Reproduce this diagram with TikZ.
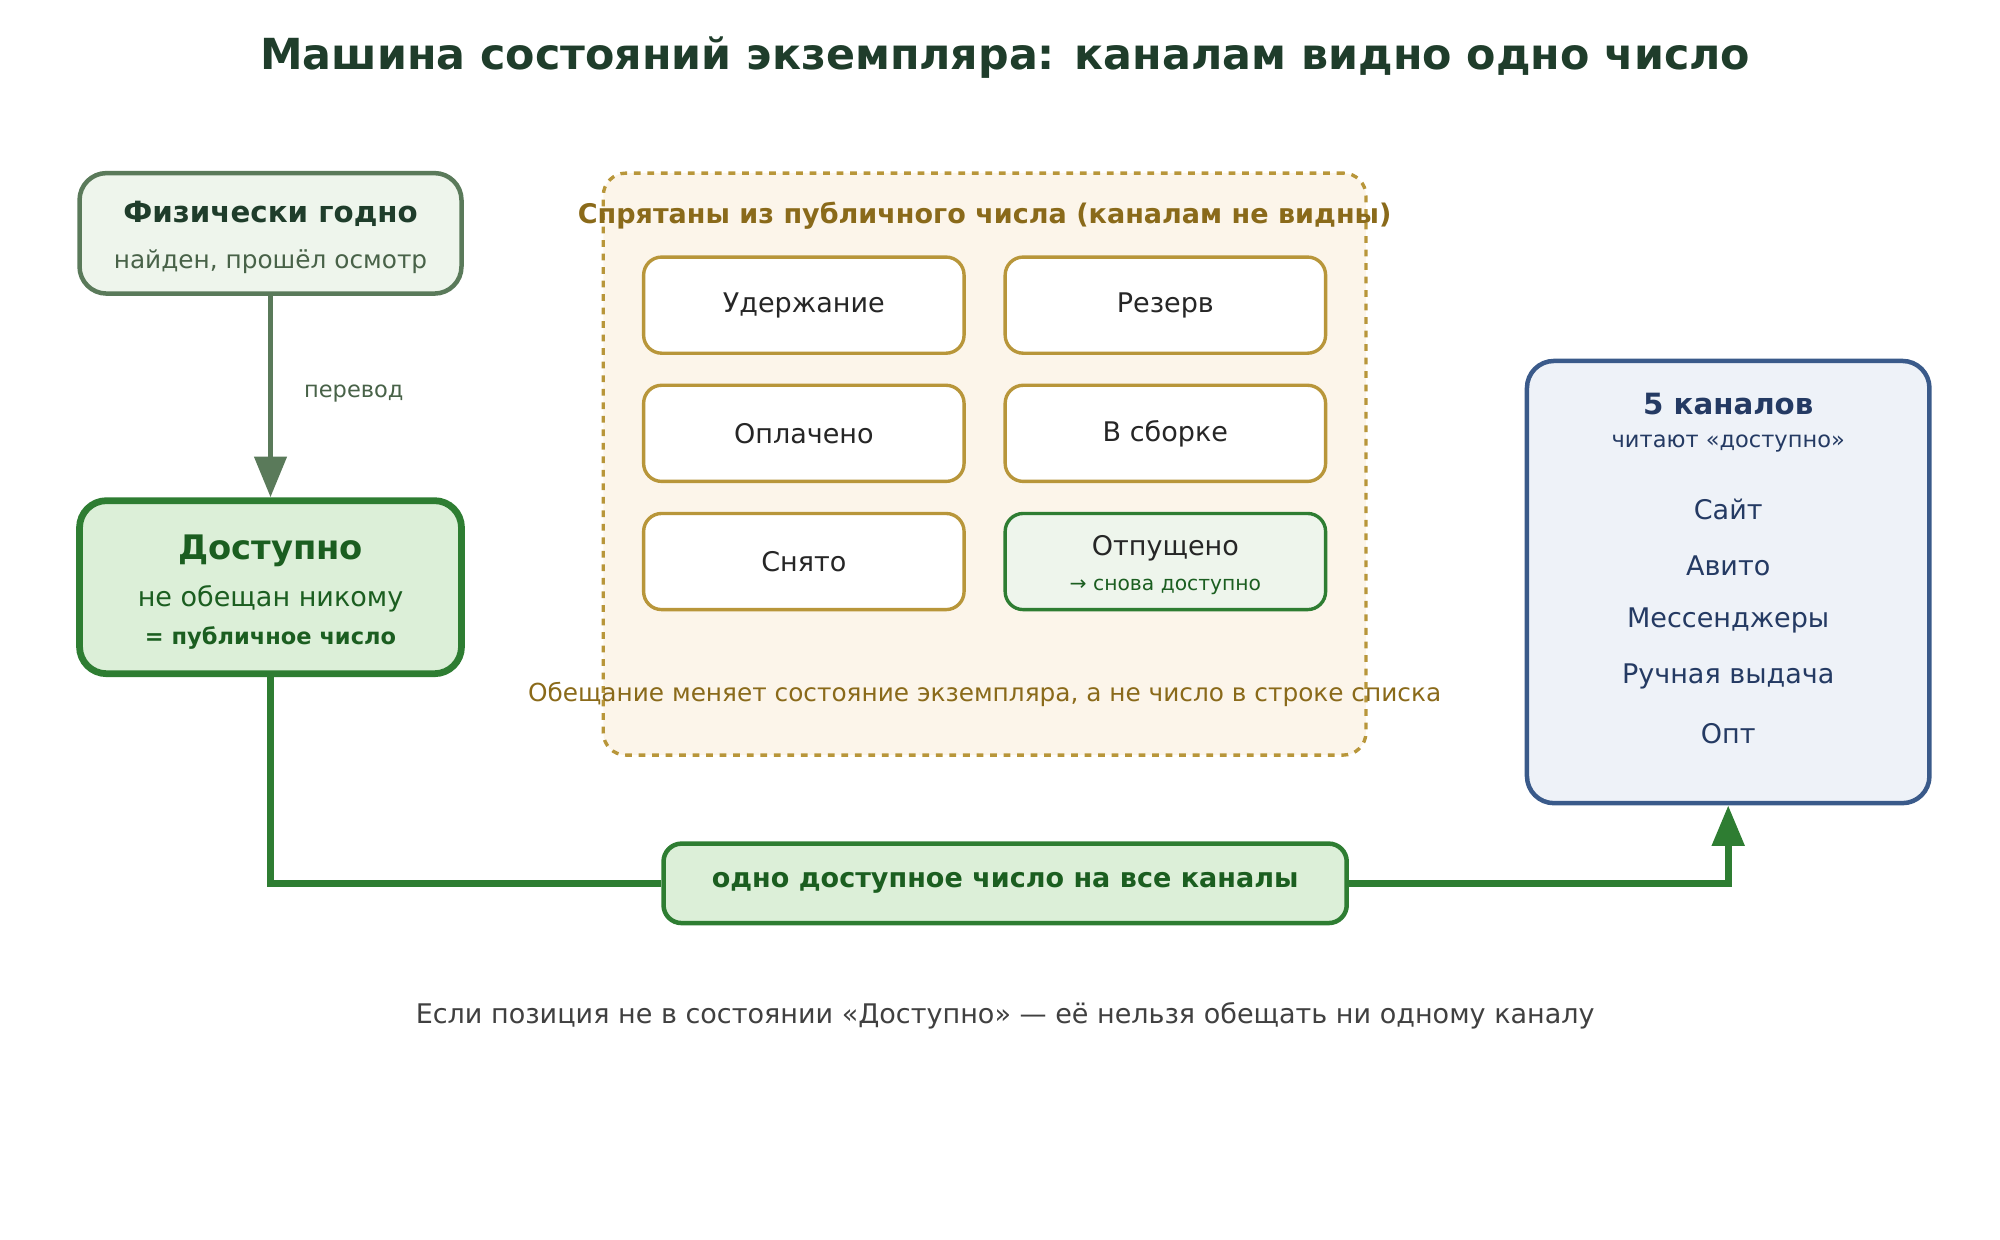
\documentclass[tikz,border=0pt]{standalone}
\usepackage{fontspec}
\setmainfont{DejaVu Sans}
\usetikzlibrary{arrows.meta}
\definecolor{titlegreen}{HTML}{1F3D2B}
\definecolor{physdraw}{HTML}{5A7A5A}
\definecolor{physfill}{HTML}{EEF5EC}
\definecolor{okdraw}{HTML}{2E7D32}
\definecolor{okfill}{HTML}{DCEFD8}
\definecolor{oktext}{HTML}{1B5E20}
\definecolor{hidedraw}{HTML}{B8963A}
\definecolor{hidefill}{HTML}{FCF5EA}
\definecolor{hidetext}{HTML}{8A6A1A}
\definecolor{chdraw}{HTML}{3A5A8A}
\definecolor{chfill}{HTML}{EEF2F8}
\definecolor{chtext}{HTML}{243A63}
\tikzset{
  statebox/.style={draw=hidedraw, fill=white, line width=1.5pt, rounded corners=8pt,
    minimum width=5cm, minimum height=1.5cm, font=\fontsize{12}{14}\selectfont, text=black!85},
  bigbox/.style={rounded corners=12pt, line width=2pt, align=center},
}
\begin{document}
\begin{tikzpicture}[x=0.02cm, y=-0.02cm]
  \useasboundingbox (0,0) rectangle (1560,967);
  \node[font=\bfseries\fontsize{19}{22}\selectfont, text=titlegreen] (title) at (784,45) {Машина состояний экземпляра: каналам видно одно число};

  % physical and available
  \node[bigbox, draw=physdraw, fill=physfill, minimum width=5.96cm, minimum height=1.88cm] (phys) at (211,182) {};
  \node[font=\bfseries\fontsize{13}{15}\selectfont, text=titlegreen] at (211,167) {Физически годно};
  \node[font=\fontsize{11}{13}\selectfont, text=physdraw!80!black] at (211,204) {найден, прошёл осмотр};

  \node[bigbox, draw=okdraw, fill=okfill, line width=3pt, minimum width=5.96cm, minimum height=2.7cm] (dost) at (211,458) {};
  \node[font=\bfseries\fontsize{15}{18}\selectfont, text=oktext] at (211,430) {Доступно};
  \node[font=\fontsize{12}{14}\selectfont, text=oktext] at (211,467) {не обещан никому};
  \node[font=\bfseries\fontsize{10}{12}\selectfont, text=oktext] at (211,498) {= публичное число};

  \draw[physdraw, line width=2.5pt, -{Triangle[length=18pt, width=14pt]}] (phys.south) -- (dost.north);
  \node[font=\fontsize{10}{12}\selectfont, text=physdraw!80!black] (perevod) at (276,307) {перевод};

  % hidden states
  \node[draw=hidedraw, fill=hidefill, dashed, line width=1.5pt, rounded corners=10pt,
    minimum width=11.9cm, minimum height=9.08cm] (hidden) at (768,362) {};
  \node[font=\bfseries\fontsize{12}{14}\selectfont, text=hidetext] at (768,168) {Спрятаны из публичного числа (каналам не видны)};
  \node[statebox] (hold) at (627,238) {Удержание};
  \node[statebox] (reserve) at (909,238) {Резерв};
  \node[statebox] (paid) at (627,338) {Оплачено};
  \node[statebox] (pick) at (909,338) {В сборке};
  \node[statebox] (off) at (627,438) {Снято};
  \node[statebox, draw=okdraw, fill=physfill] (released) at (909,438) {};
  \node[font=\fontsize{12}{14}\selectfont, text=black!85] at (909,428) {Отпущено};
  \node[font=\fontsize{9}{11}\selectfont, text=oktext] at (909,458) {→ снова доступно};
  \node[font=\fontsize{11}{13}\selectfont, text=hidetext] at (768,542) {Обещание меняет состояние экземпляра, а не число в строке списка};

  % channels
  \node[bigbox, draw=chdraw, fill=chfill, minimum width=6.28cm, minimum height=6.9cm] (chan) at (1348,454) {};
  \node[font=\bfseries\fontsize{13}{15}\selectfont, text=chtext] at (1348,315) {5 каналов};
  \node[font=\fontsize{10}{12}\selectfont, text=chtext] at (1348,346) {читают «доступно»};
  \foreach \name/\ypos in {Сайт/397, Авито/441, Мессенджеры/484, Ручная выдача/528, Опт/572}
    \node[font=\fontsize{12}{14}\selectfont, text=chtext] at (1348,\ypos) {\name};

  % one number for all
  \node[draw=okdraw, fill=okfill, line width=2pt, rounded corners=8pt, minimum width=10.66cm,
    minimum height=1.24cm, font=\bfseries\fontsize{12}{14}\selectfont, text=oktext] (one) at (784,689) {одно доступное число на все каналы};
  \draw[okdraw, line width=3pt] (dost.south) |- (one.west);
  \draw[okdraw, line width=3pt, -{Triangle[length=18pt, width=14pt]}] (one.east) -| (chan.south);

  \node[font=\fontsize{12}{14}\selectfont, text=black!75] (foot) at (784,792) {Если позиция не в состоянии «Доступно» — её нельзя обещать ни одному каналу};
\end{tikzpicture}
\end{document}
